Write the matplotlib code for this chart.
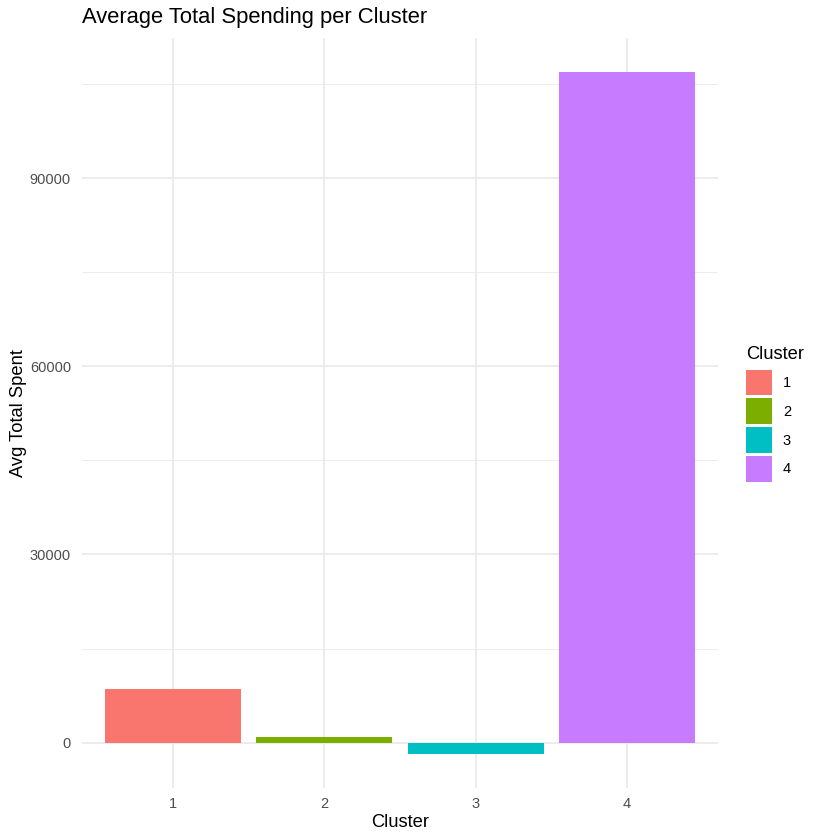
import matplotlib
matplotlib.use('Agg')
import matplotlib.pyplot as plt
from matplotlib.patches import Patch

# values
clusters = ['1', '2', '3', '4']
avg_spent = [8560, 900, -1800, 106900]
colours = ['#F8766D', '#7CAE00', '#00BFC4', '#C77CFF']
y_ticks = [0, 30000, 60000, 90000]
y_minor = [15000, 45000, 75000, 105000]

plt.rcParams['font.family'] = ['Liberation Sans', 'DejaVu Sans']

fig = plt.figure(figsize=(8.4, 8.4), dpi=100)
ax = fig.add_axes([82 / 840, 52 / 840, 636 / 840, 750 / 840])

x = list(range(1, len(clusters) + 1))
ax.bar(x, avg_spent, width=0.9, color=colours, zorder=2)

# ggplot-like expansion
lo, hi = min(avg_spent + [0]), max(avg_spent)
pad = (hi - lo) * 0.05
ax.set_ylim(lo - pad, hi + pad)
ax.set_xlim(0.4, len(clusters) + 0.6)

ax.set_xticks(x)
ax.set_xticklabels(clusters)
ax.set_yticks(y_ticks)
ax.set_yticklabels([str(v) for v in y_ticks])
ax.set_yticks(y_minor, minor=True)

ax.grid(True, which='major', color='#EBEBEB', linewidth=1.3, zorder=0)
ax.grid(True, which='minor', axis='y', color='#EBEBEB', linewidth=0.65, zorder=0)
ax.set_axisbelow(True)
for s in ax.spines.values():
    s.set_visible(False)
ax.tick_params(axis='both', which='both', length=0, labelsize=10.5, labelcolor='#4D4D4D')
ax.tick_params(axis='y', pad=8)
ax.tick_params(axis='x', pad=6.5)

ax.set_xlabel('Cluster', fontsize=13.2, labelpad=2)
ax.set_ylabel('Avg Total Spent', fontsize=13.2, labelpad=2)
fig.text(82 / 840, 1 - 17 / 840, 'Average Total Spending per Cluster',
         fontsize=15.8, ha='left', va='center')

handles = [Patch(facecolor=c, edgecolor='none', label=l) for c, l in zip(colours, clusters)]
leg = fig.legend(handles=handles, title='Cluster', loc='upper left',
                 bbox_to_anchor=(734 / 840, 1 - 334 / 840), frameon=False,
                 fontsize=10.5, title_fontsize=13.2, handlelength=1.8, handleheight=2.35,
                 labelspacing=0.2, handletextpad=0.75, alignment='left', borderpad=0.3)
leg._legend_box.sep = 5

fig.savefig('out.png', dpi=100)
